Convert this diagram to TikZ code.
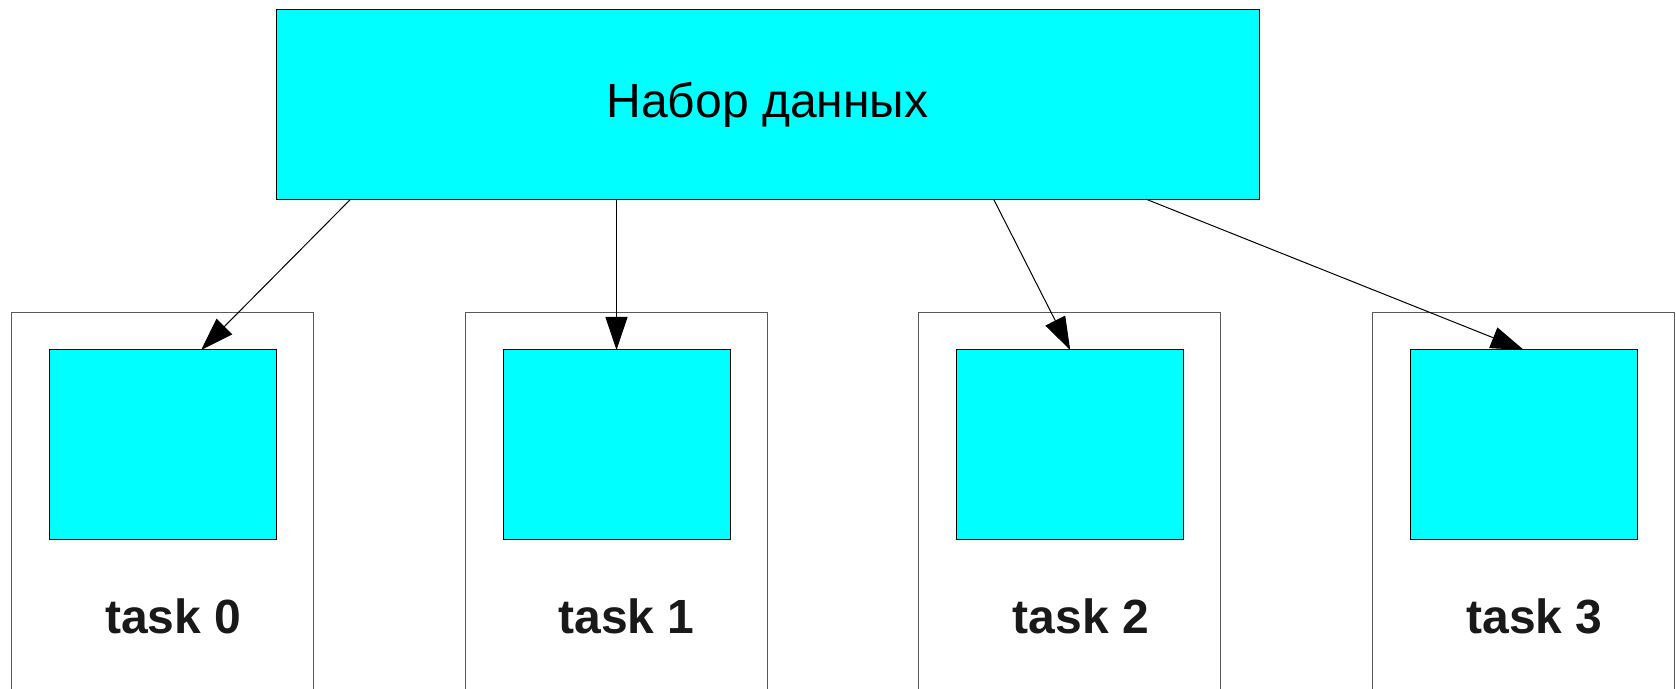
\documentclass[tikz,border=0pt]{standalone}
\usepackage{fontspec}
\setmainfont{Liberation Sans}
\usetikzlibrary{
    positioning,    % For relative node placement
    arrows.meta,    % For the Triangle arrow tip
    calc            % For points along the box edges
}
\definecolor{datacyan}{RGB}{0,255,255}

\begin{document}
\begin{tikzpicture}[
    x=0.5pt, y=-0.5pt,
    box/.style={rectangle, draw, line width=0.5pt, inner sep=0pt, outer sep=0pt},
    databox/.style={box, fill=datacyan, minimum width=491.5pt, minimum height=94.75pt, font=\fontsize{24}{29}\selectfont},
    taskbox/.style={box, draw=black!65, minimum width=151pt, minimum height=188.85pt},
    corebox/.style={box, fill=datacyan, minimum width=113.5pt, minimum height=94.5pt},
    tasklabel/.style={font=\fontsize{24}{29}\selectfont\bfseries, text=black!90, anchor=base},
    arrow/.style={-{Triangle[length=16.5pt, width=11pt]}, line width=0.5pt}
]
    \useasboundingbox (0,0) rectangle (1676,689);

    % Data set
    \node[databox] (data) at (767.5,104.4) {Набор данных};

    % Task frames
    \node[taskbox, anchor=north west] (task0) at (11.3,312.3) {};
    \node[taskbox, right=75.85pt of task0] (task1) {};
    \node[taskbox, right=75.85pt of task1] (task2) {};
    \node[taskbox, right=75.85pt of task2] (task3) {};

    % Inner blocks
    \node[corebox, below right=18.85pt and 19pt of task0.north west] (core0) {};
    \node[corebox, below right=18.85pt and 19pt of task1.north west] (core1) {};
    \node[corebox, below right=18.85pt and 19pt of task2.north west] (core2) {};
    \node[corebox, below right=18.85pt and 19pt of task3.north west] (core3) {};

    % Labels
    \node[tasklabel] (lbl0) at (173.3,633) {task 0};
    \node[tasklabel] (lbl1) at (626.5,633) {task 1};
    \node[tasklabel] (lbl2) at (1081,633) {task 2};
    \node[tasklabel] (lbl3) at (1534.5,633) {task 3};

    % Arrows
    \draw[arrow] ($(data.south west)!0.076!(data.south east)$) -- ($(core0.north west)!0.669!(core0.north east)$);
    \draw[arrow] (data.south -| core1.north) -- (core1.north);
    \draw[arrow] ($(data.south west)!0.730!(data.south east)$) -- (core2.north);
    \draw[arrow] ($(data.south west)!0.885!(data.south east)$) -- (core3.north);
\end{tikzpicture}
\end{document}
